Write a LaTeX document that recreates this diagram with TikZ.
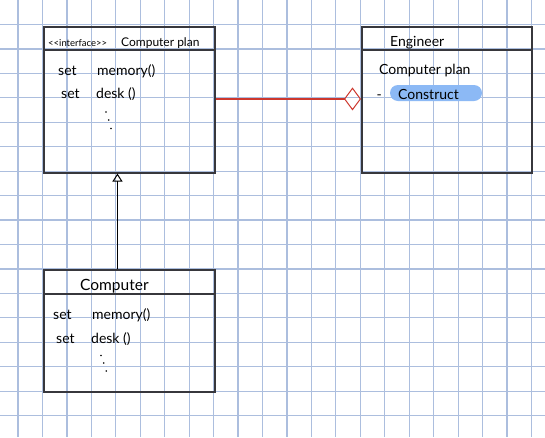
\documentclass[tikz,border=0pt]{standalone}
\usepackage{fontspec}
\setmainfont{Lato}
\usetikzlibrary{arrows.meta}
\definecolor{gridc}{RGB}{172,190,222}
\definecolor{boxc}{RGB}{55,55,60}
\definecolor{relc}{RGB}{205,55,45}
\definecolor{hlc}{RGB}{140,185,245}
\begin{document}
\begin{tikzpicture}[x=1pt,y=-1pt,
  gridline/.style={draw=gridc, line width=1.2pt},
  umlbox/.style={draw=boxc, line width=1.5pt, inner sep=0pt, anchor=north west},
  sepline/.style={draw=boxc, line width=1.6pt},
  txt/.style={inner sep=0pt, anchor=base west, font=\fontsize{14}{16}\selectfont},
  hdr/.style={inner sep=0pt, anchor=base west, font=\fontsize{12}{14}\selectfont},
  ttl/.style={inner sep=0pt, anchor=base west, font=\fontsize{14}{16}\selectfont},
  dotc/.style={fill=black, draw=none},
  hlpill/.style={fill=hlc, rounded corners=8pt, minimum width=92pt, minimum height=16pt, inner sep=0pt},
  relline/.style={draw=relc, line width=1.15pt},
  genline/.style={draw=black, line width=1pt}]
\useasboundingbox (0,0) rectangle (545,437);
\fill[white] (0,0) rectangle (545,437);
% grid
\foreach \i in {0,...,21} \draw[gridline] ({18+24.45*\i},0) -- ({18+24.45*\i},437);
\foreach \j in {1,...,17} \draw[gridline] (0,{24.45*\j}) -- (545,{24.45*\j});
% boxes
\node[umlbox, minimum width=171pt, minimum height=146pt] (b1) at (43,26) {};
\node[umlbox, minimum width=170pt, minimum height=146pt] (b2) at (361,26) {};
\node[umlbox, minimum width=171pt, minimum height=122pt] (b3) at (43,269) {};
\draw[sepline] ([yshift=-24pt]b1.north west) -- ([yshift=-24pt]b1.north east);
\draw[sepline] ([yshift=-24pt]b2.north west) -- ([yshift=-24pt]b2.north east);
\draw[sepline] ([yshift=-25pt]b3.north west) -- ([yshift=-25pt]b3.north east);
% box 1 texts
\node[hdr, font=\fontsize{9.5}{11}\selectfont] (h1a) at (48,46) {<{}<{}interface>{}>};
\node[hdr] (h1b) at (121,46) {Computer plan};
\node[txt] (s1a) at (58,75.5) {set};
\node[txt] (m1a) at (97,75.5) {memory()};
\node[txt] (s1b) at (61,98.5) {set};
\node[txt] (m1b) at (96,98.5) {desk ()};
\fill[dotc] (106,112) circle (0.9pt) (108.7,120) circle (0.9pt) (111,128.5) circle (0.9pt);
% box 2 texts
\node[hlpill] (hl) at (436,93) {};
\node[ttl] (h2) at (390,46.5) {Engineer};
\node[txt] (c2) at (379,74) {Computer plan};
\node[txt] (dash2) at (376.5,99) {-};
\node[txt] (k2) at (398,99) {Construct};
% box 3 texts
\node[ttl, font=\fontsize{15.5}{17}\selectfont] (h3) at (80,290.5) {Computer};
\node[txt] (s3a) at (53,319) {set};
\node[txt] (m3a) at (92,319) {memory()};
\node[txt] (s3b) at (56,343) {set};
\node[txt] (m3b) at (91,343) {desk ()};
\fill[dotc] (101,355.5) circle (0.9pt) (103.7,363) circle (0.9pt) (106.3,371) circle (0.9pt);
% connectors
\draw[genline, -{Triangle[open, length=8pt, width=10pt]}] ([xshift=-11.8pt]b3.north) -- ([xshift=-11.8pt]b1.south);
\draw[relline, -{Diamond[open, length=17pt, width=23pt, line width=1pt]}] ([yshift=0.8pt]b1.east) -- ([yshift=0.8pt]b2.west);
\end{tikzpicture}
\end{document}
